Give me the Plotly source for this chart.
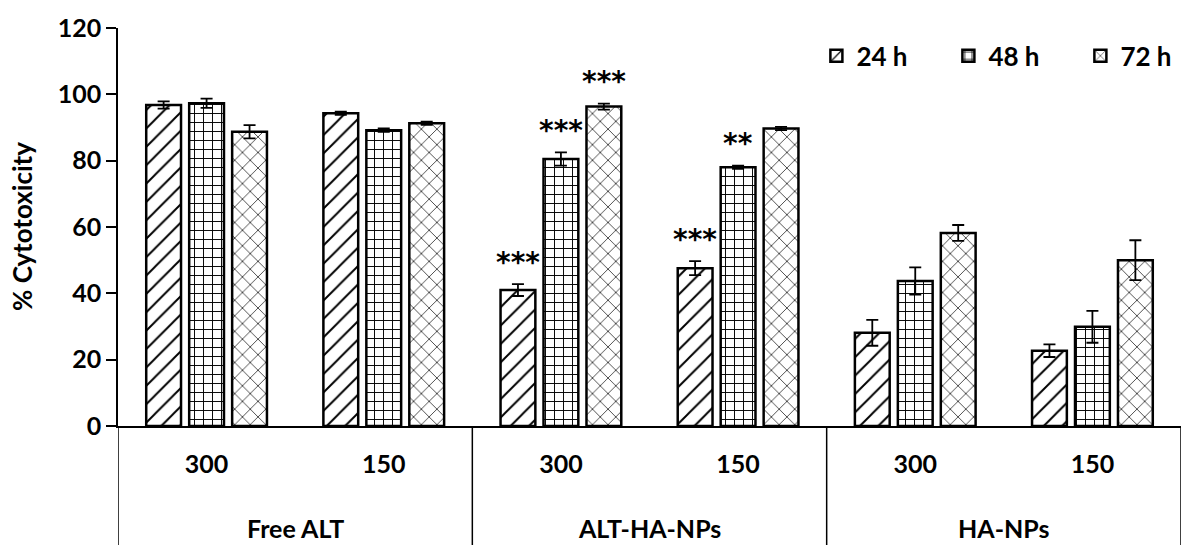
import plotly.graph_objects as go

# ---- data ----
groups = ["Free ALT", "ALT-HA-NPs", "HA-NPs"]
doses = ["300", "150", "300", "150", "300", "150"]
series = ["24 h", "48 h", "72 h"]
y_title = "% Cytotoxicity"

v24 = [96.8, 94.3, 41.0, 47.6, 28.1, 22.7]
e24 = [1.1, 0.5, 1.8, 2.1, 3.9, 1.9]
v48 = [97.3, 89.2, 80.5, 78.0, 43.7, 29.9]
e48 = [1.4, 0.5, 2.0, 0.5, 4.1, 4.8]
v72 = [88.7, 91.3, 96.3, 89.7, 58.2, 50.0]
e72 = [2.0, 0.5, 0.9, 0.5, 2.4, 6.0]

sig24 = ["", "", "***", "***", "", ""]
sig48 = ["", "", "***", "**", "", ""]
sig72 = ["", "", "***", "", "", ""]

values = [v24, v48, v72]
errors = [e24, e48, e72]
sigs = [sig24, sig48, sig72]

# ---- style ----
FONT = "Lato"
patterns = [dict(shape="/", size=13, solidity=0.15),
            dict(shape="+", size=9, solidity=0.2),
            dict(shape="x", size=11, solidity=0.12)]
BARGAP = 0.2725
BARGROUPGAP = 0.19

x = list(range(len(doses)))

fig = go.Figure()
for k, name in enumerate(series):
    pat = dict(patterns[k])
    pat.update(fgcolor="black", bgcolor="white", fillmode="replace")
    fig.add_trace(go.Bar(
        x=x, y=values[k], name=name,
        marker=dict(color="white", line=dict(color="black", width=2.5), pattern=pat),
        error_y=dict(type="data", array=errors[k], color="black", thickness=1.8, width=6),
    ))

pitch = (1 - BARGAP) / len(series)
annotations = []
for k in range(len(series)):
    for i, s in enumerate(sigs[k]):
        if s:
            annotations.append(dict(
                x=i + (k - 1) * pitch, y=values[k][i] + errors[k][i],
                xref="x", yref="y", text=s, showarrow=False,
                yanchor="middle", yshift=22,
                font=dict(family="DejaVu Sans", size=28, color="black", weight="bold"),
            ))

# group labels
for g, name in enumerate(groups):
    annotations.append(dict(
        x=2 * g + 0.5, y=-0.256, xref="x", yref="paper", text=name,
        showarrow=False, yanchor="middle",
        font=dict(family=FONT, size=25, color="black", weight="bold"),
    ))

# y-axis title
annotations.append(dict(
    x=0, y=0.5, xref="paper", yref="paper", xshift=-96, text=y_title,
    textangle=-90, showarrow=False, xanchor="center", yanchor="middle",
    font=dict(family=FONT, size=26, color="black", weight="bold"),
))

shapes = []
for b in range(len(groups) + 1):
    shapes.append(dict(type="line", xref="x", yref="paper",
                       x0=2 * b - 0.5, x1=2 * b - 0.5, y0=0, y1=-0.31,
                       line=dict(color="black", width=1.5)))

fig.update_layout(
    width=1181, height=545,
    margin=dict(l=118, r=0, t=28, b=119, autoexpand=False),
    paper_bgcolor="white", plot_bgcolor="white",
    barmode="group", bargap=BARGAP, bargroupgap=BARGROUPGAP,
    font=dict(family=FONT, color="black"),
    showlegend=True,
    legend=dict(orientation="h", x=0.657, y=0.93, xanchor="left", yanchor="middle",
                font=dict(family=FONT, size=26, color="black", weight="bold"),
                entrywidth=87, entrywidthmode="pixels", bgcolor="rgba(0,0,0,0)"),
    annotations=annotations,
    shapes=shapes,
)
fig.update_xaxes(
    range=[-0.5, 5.5], tickvals=x, ticktext=doses, ticks="",
    showline=True, linecolor="black", linewidth=2, automargin=False,
    showgrid=False, zeroline=False, ticklabelstandoff=15,
    tickfont=dict(family=FONT, size=25, color="black", weight="bold"),
)
fig.update_yaxes(
    range=[0, 120], dtick=20, ticks="outside", ticklen=10, tickwidth=1.5, tickcolor="black",
    showline=True, linecolor="black", linewidth=1.5, showgrid=False, zeroline=False,
    automargin=False,
    tickfont=dict(family=FONT, size=25, color="black", weight="bold"),
)

fig.write_html("out.html", config={"displayModeBar": False},
               post_script="document.body.style.margin='0';document.body.style.overflow='hidden';")
